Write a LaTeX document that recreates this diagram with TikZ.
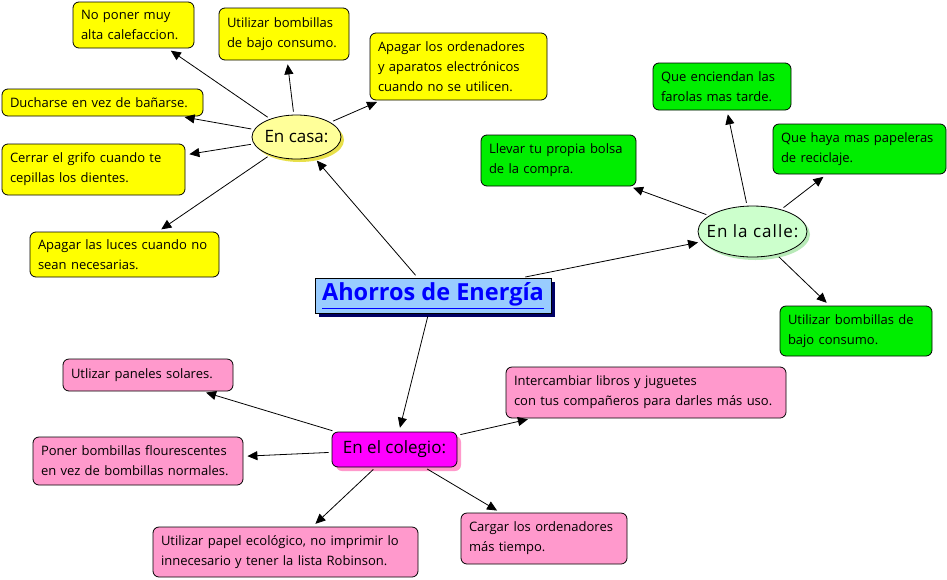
\documentclass[tikz,border=0pt]{standalone}
\usepackage{fontspec}
\setmainfont{Open Sans}
\newfontfamily\widefont[LetterSpace=6]{Open Sans}
\usetikzlibrary{arrows.meta,shadows,shapes.geometric}
\definecolor{yel}{HTML}{FFFF00}
\definecolor{grn}{HTML}{00EE00}
\definecolor{pnk}{HTML}{FF99CC}
\definecolor{casafill}{HTML}{FFFF99}
\definecolor{casashadow}{HTML}{E8E04A}
\definecolor{callefill}{HTML}{CCFFCC}
\definecolor{calleshadow}{HTML}{B8EAB8}
\definecolor{mag}{HTML}{FF00FF}
\definecolor{centerfill}{HTML}{99CCFF}
\definecolor{navy}{HTML}{000066}
\begin{document}
\begin{tikzpicture}[x=1pt,y=-1pt,
  box/.style={draw=black, line width=0.8pt, rounded corners=6pt, inner xsep=8pt, inner ysep=0pt,
    align=left, font=\fontsize{13}{20}\selectfont},
  ybox/.style={box, fill=yel},
  gbox/.style={box, fill=grn},
  pbox/.style={box, fill=pnk},
  hub/.style={draw=black, line width=0.8pt, inner sep=0pt, font=\fontsize{17}{20}\selectfont},
  arr/.style={-{Triangle[length=10pt,width=9pt]}, line width=0.8pt, shorten >=4pt, shorten <=3pt}]
\useasboundingbox (0,0) rectangle (947,579);
\fill[white] (0,0) rectangle (947,579);

% central
\node[draw=black, line width=0.8pt, fill=centerfill, minimum width=236pt, minimum height=35pt, inner sep=0pt,
  drop shadow={shadow xshift=4pt, shadow yshift=-4pt, fill=navy, opacity=1},
  text=blue, font=\fontsize{23.5}{26}\selectfont\bfseries] (main) at (433,295.5) {\underline{Ahorros de Energía}};

% hubs
\node[hub, ellipse, fill=casafill, minimum width=89pt, minimum height=44pt,
  drop shadow={shadow xshift=3pt, shadow yshift=-3pt, fill=casashadow, opacity=1}] (casa) at (296.5,137) {\makebox[0pt]{En casa:}};
\node[hub, ellipse, fill=callefill, minimum width=109pt, minimum height=51pt,
  drop shadow={shadow xshift=3pt, shadow yshift=-3pt, fill=calleshadow, opacity=1}] (calle) at (752.5,231.5) {\makebox[0pt]{\widefont En la calle:}};
\node[hub, fill=mag, rounded corners=6pt, minimum width=125pt, minimum height=35pt,
  drop shadow={shadow xshift=4pt, shadow yshift=-4pt, fill=pnk, opacity=1}] (cole) at (394.5,449.5) {En el colegio:};

% yellow
\node[ybox, text width=105pt, minimum height=46pt] (y1) at (133.5,25) {No poner muy\\alta calefaccion.};
\node[ybox, text width=114pt, minimum height=52pt] (y2) at (284,34) {Utilizar bombillas\\de bajo consumo.};
\node[ybox, text width=161pt, minimum height=67pt] (y3) at (458.5,66.5) {Apagar los ordenadores\\y aparatos electrónicos\\cuando no se utilicen.};
\node[ybox, text width=185pt, minimum height=27pt] (y4) at (102.5,102.5) {Ducharse en vez de bañarse.};
\node[ybox, text width=167pt, minimum height=51pt] (y5) at (93.5,169.5) {Cerrar el grifo cuando te\\cepillas los dientes.};
\node[ybox, text width=173pt, minimum height=45pt] (y6) at (124.5,254.5) {Apagar las luces cuando no\\sean necesarias.};

% green
\node[gbox, text width=122pt, minimum height=47pt] (g1) at (722,86.5) {Que enciendan las\\farolas mas tarde.};
\node[gbox, text width=157pt, minimum height=50pt] (g2) at (859.5,149) {Que haya mas papeleras\\de reciclaje.};
\node[gbox, text width=139pt, minimum height=51pt] (g3) at (558.5,160.5) {Llevar tu propia bolsa\\de la compra.};
\node[gbox, text width=136pt, minimum height=50pt] (g4) at (856,331) {Utilizar bombillas de\\bajo consumo.};

% pink
\node[pbox, text width=154pt, minimum height=32pt] (p1) at (148,375) {Utlizar paneles solares.};
\node[pbox, text width=264pt, minimum height=51pt] (p2) at (646,392.5) {Intercambiar libros y juguetes\\con tus compañeros para darles más uso.};
\node[pbox, text width=194pt, minimum height=48pt] (p3) at (138,461) {Poner bombillas flourescentes\\en vez de bombillas normales.};
\node[pbox, text width=249pt, minimum height=50pt] (p4) at (285.5,552) {Utilizar papel ecológico, no imprimir lo\\innecesario y tener la lista Robinson.};
\node[pbox, text width=150pt, minimum height=51pt] (p5) at (544,538.5) {Cargar los ordenadores\\más tiempo.};

% connectors
\draw[arr] (main) -- (casa);
\draw[arr] (main) -- (calle);
\draw[arr] (main) -- (cole);
\foreach \t in {y1,y2,y3,y4,y5,y6} \draw[arr] (casa) -- (\t);
\foreach \t in {g1,g2,g3,g4} \draw[arr] (calle) -- (\t);
\foreach \t in {p1,p2,p3,p4,p5} \draw[arr] (cole) -- (\t);
\end{tikzpicture}
\end{document}
